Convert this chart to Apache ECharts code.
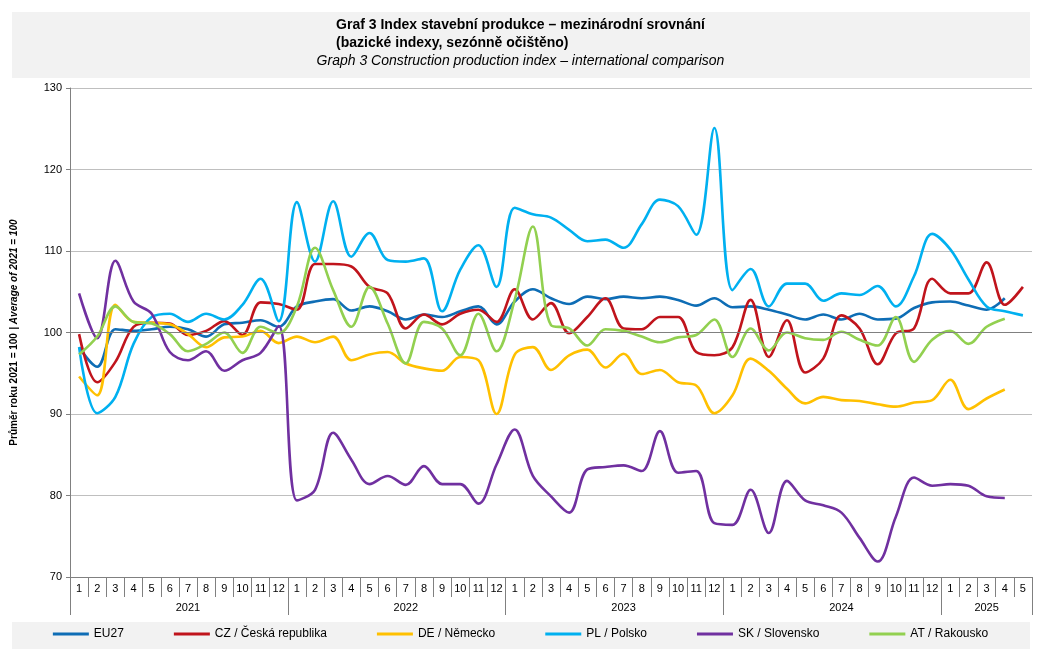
<!DOCTYPE html>
<html>
<head>
<meta charset="utf-8">
<script src="https://cdn.jsdelivr.net/npm/echarts@6/dist/echarts.min.js"></script>
<style>html,body{margin:0;padding:0;background:#fff}#chart{width:1041px;height:658px}</style>
</head>
<body>
<div id="chart"></div>
<script>
var months = [];
var years = [];
for (var y = 2021; y <= 2025; y++) {
	var last = (y == 2025) ? 5 : 12;
	for (var m = 1; m <= last; m++) { months.push(String(m)); years.push(String(y)); }
}
var categories = months.map(function (m, i) { return years[i] + '-' + m; });

var eu27 = [98.2,95.8,100.4,100.2,100.4,100.7,100.4,99.5,101,101.2,101.5,100.7,
	103.2,103.8,104.1,102.7,103.2,102.6,101.6,102.2,101.9,102.6,103.2,101,
	103.8,105.3,104.2,103.5,104.4,104.1,104.4,104.2,104.4,104,103.3,104.2,
	103.1,103.2,102.8,102.2,101.6,102.2,101.6,102.3,101.6,101.7,103,103.7,
	103.8,103.3,102.8,104.2,null];
var cz = [99.8,93.9,96.4,100.7,101.2,101.1,99.7,100.2,101.4,99.7,103.7,103.5,
	102.8,108.4,108.4,108.1,105.6,104.8,100.5,102.2,101,102.3,102.8,101.3,
	105.3,101.6,103.6,99.9,101.9,104.2,100.5,100.4,101.9,101.9,97.6,97.2,
	98.2,104,97,101.5,95.1,96.8,102.1,100.5,96.1,99.9,100.5,106.6,
	104.8,104.8,108.6,103.4,105.6];
var de = [94.6,92.3,103.4,101.3,101.2,101,99.8,98.2,99.4,99.5,100.2,98.7,
	99.5,98.8,99.5,96.6,97.3,97.6,96.2,95.6,95.3,97,96.6,90,
	97.3,98.2,95.4,97.2,97.9,95.7,97.4,94.9,95.4,93.9,93.5,90.1,
	92.3,96.8,95.3,93.1,91.3,92.1,91.7,91.6,91.2,90.9,91.4,91.7,
	94.2,90.6,91.9,93,null];
var pl = [98.2,90.1,92.1,98.6,101.9,102.3,101.3,102.3,101.6,103.4,106.6,101.4,
	116,108.7,116.1,109.3,112.2,108.9,108.7,109.1,102.6,107.7,110.7,105.6,
	115.3,114.5,114.1,112.6,111.2,111.4,110.4,113.3,116.3,115.5,112,125.1,
	105.2,107.8,103.2,106,106,103.9,104.8,104.6,105.7,103.2,106.9,112.1,
	110.2,106.5,103.2,102.6,102.1];
var sk = [104.8,99.3,108.8,103.8,102.3,97.6,96.6,97.7,95.3,96.6,97.5,100.8,
	79.4,80.7,87.7,84.4,81.4,82.4,81.3,83.6,81.4,81.4,79,83.8,
	88.1,82.4,79.9,77.9,83.2,83.5,83.7,83,87.9,82.8,83,76.6,
	76.4,80.7,75.4,81.8,79.4,78.8,77.9,74.8,71.9,77.4,82.2,81.2,
	81.4,81.2,79.9,79.7,null];
var at = [97.3,99.5,103.2,101.3,101.1,99.8,97.7,98.6,100,97.5,100.7,99.9,
	103.2,110.4,105.2,100.7,105.6,101.1,96.2,101.3,100.5,97.2,102.3,97.7,
	104,113,100.9,100.5,98.4,100.4,100.2,99.5,98.8,99.4,99.7,101.6,
	97,100.5,97.8,100,99.3,99.1,100.1,99.1,98.4,101.9,96.4,99.1,
	100.2,98.6,100.7,101.7,null];

var seriesNames = ['EU27', 'CZ / Česká republika', 'DE / Německo', 'PL / Polsko', 'SK / Slovensko', 'AT / Rakousko'];
var seriesData = [eu27, cz, de, pl, sk, at];
var colors = ['#0E6DB5', '#C0141C', '#FFC000', '#00B0F0', '#7030A0', '#92D050'];

var chart = echarts.init(document.getElementById('chart'));

var series = seriesData.map(function (d, i) {
	return {
		name: seriesNames[i],
		type: 'line',
		data: d,
		smooth: 0.35,
		showSymbol: false,
		lineStyle: { width: 2.6, color: colors[i] },
		itemStyle: { color: colors[i] }
	};
});
// reference line at 100
series[0].markLine = {
	silent: true, symbol: 'none', label: { show: false },
	lineStyle: { color: '#808080', width: 1, type: 'solid' },
	data: [{ yAxis: 100 }]
};

var option = {
	animation: false,
	textStyle: { fontFamily: 'Liberation Sans, Arial, sans-serif' },
	graphic: [
		{ type: 'rect', left: 12, top: 12, shape: { width: 1018, height: 66 }, style: { fill: '#F2F2F2' }, z: -1 },
		{ type: 'rect', left: 12, top: 622, shape: { width: 1018, height: 27 }, style: { fill: '#F2F2F2' }, z: -1 },
		{ type: 'text', left: 'center', top: 16, style: {
			text: 'Graf 3 Index stavební produkce – mezinárodní srovnání\n(bazické indexy, sezónně očištěno)',
			font: 'bold 14px Liberation Sans, Arial', fill: '#000', align: 'center', lineHeight: 18 } },
		{ type: 'text', left: 'center', top: 54, style: {
			text: 'Graph 3 Construction production index – international comparison',
			font: 'italic 14px Liberation Sans, Arial', fill: '#000', align: 'center' } }
	],
	legend: {
		bottom: 13, left: 'center', itemGap: 50,
		icon: 'rect', itemWidth: 36, itemHeight: 3,
		textStyle: { fontSize: 12, color: '#000' },
		data: seriesNames
	},
	grid: { left: 70, right: 9, top: 88, bottom: 81 },
	xAxis: [{
		type: 'category', data: categories, boundaryGap: true,
		axisLine: { lineStyle: { color: '#808080' } },
		axisTick: { show: true, length: 20, interval: 0, lineStyle: { color: '#808080' } },
		axisLabel: { interval: 0, margin: 6, fontSize: 11, color: '#000',
			formatter: function (v, i) { return months[i]; } }
	}, {
		type: 'category', data: categories, boundaryGap: true, position: 'bottom',
		axisLine: { show: false },
		axisTick: { show: true, length: 38, lineStyle: { color: '#808080' },
			interval: function (i) { return months[i] == '1'; } },
		axisLabel: { margin: 25, fontSize: 11, color: '#000',
			interval: function (i) { return (years[i] == '2025') ? months[i] == '3' : months[i] == '7'; },
			formatter: function (v, i) { return years[i]; } }
	}],
	yAxis: {
		type: 'value', min: 70, max: 130, interval: 10,
		axisLine: { show: true, lineStyle: { color: '#808080' } },
		axisTick: { show: true, length: 4, lineStyle: { color: '#808080' } },
		axisLabel: { fontSize: 11, color: '#000', margin: 8 },
		splitLine: { lineStyle: { color: '#BFBFBF' } },
		name: '{b|Průměr roku 2021 = 100} {i|| Average of 2021 = 100}',
		nameLocation: 'middle', nameGap: 50, nameRotate: 90,
		nameTextStyle: { rich: {
			b: { fontSize: 10, fontWeight: 'bold', color: '#000' },
			i: { fontSize: 10, fontWeight: 'bold', fontStyle: 'italic', color: '#000' }
		} }
	},
	series: series
};
chart.setOption(option);
</script>
</body>
</html>
